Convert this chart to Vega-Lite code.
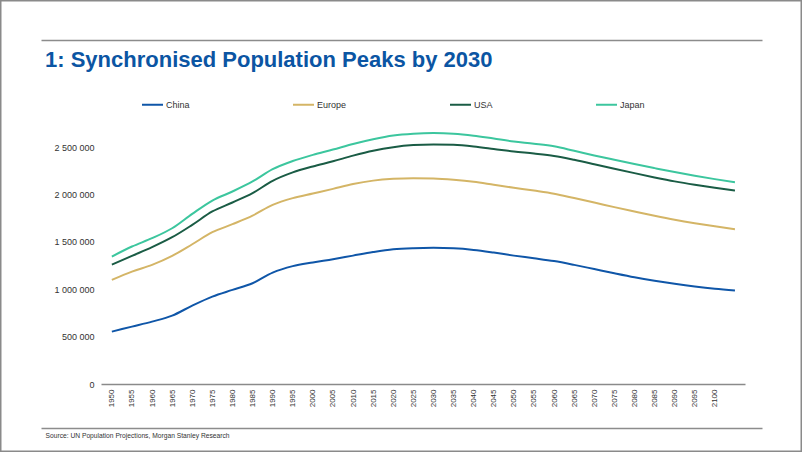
{
  "$schema": "https://vega.github.io/schema/vega-lite/v6.json",
  "width": 802,
  "height": 452,
  "autosize": {"type": "none"},
  "padding": 0,
  "background": "white",
  "config": {
    "locale": {"number": {"decimal": ".", "thousands": " ", "grouping": [3], "currency": ["", ""]}},
    "view": {"stroke": "#8a8a8a", "strokeWidth": 3},
    "font": "Liberation Sans"
  },
  "title": {
    "text": "1: Synchronised Population Peaks by 2030",
    "anchor": "start",
    "frame": "group",
    "orient": "top",
    "offset": 0,
    "dx": 45,
    "dy": 89,
    "baseline": "alphabetic",
    "font": "Liberation Sans",
    "fontSize": 22,
    "fontWeight": "bold",
    "color": "#0b55a3"
  },
  "data": {
    "values": [
      {"year": 1950, "series": "China", "value": 553000},
      {"year": 1955, "series": "China", "value": 606000},
      {"year": 1960, "series": "China", "value": 659000},
      {"year": 1965, "series": "China", "value": 722000},
      {"year": 1970, "series": "China", "value": 828000},
      {"year": 1975, "series": "China", "value": 923000},
      {"year": 1980, "series": "China", "value": 994000},
      {"year": 1985, "series": "China", "value": 1064000},
      {"year": 1990, "series": "China", "value": 1177000},
      {"year": 1995, "series": "China", "value": 1245000},
      {"year": 2000, "series": "China", "value": 1284000},
      {"year": 2005, "series": "China", "value": 1318000},
      {"year": 2010, "series": "China", "value": 1356000},
      {"year": 2015, "series": "China", "value": 1393000},
      {"year": 2020, "series": "China", "value": 1422000},
      {"year": 2025, "series": "China", "value": 1434000},
      {"year": 2030, "series": "China", "value": 1438000},
      {"year": 2035, "series": "China", "value": 1433000},
      {"year": 2040, "series": "China", "value": 1416000},
      {"year": 2045, "series": "China", "value": 1388000},
      {"year": 2050, "series": "China", "value": 1356000},
      {"year": 2055, "series": "China", "value": 1328000},
      {"year": 2060, "series": "China", "value": 1298000},
      {"year": 2065, "series": "China", "value": 1258000},
      {"year": 2070, "series": "China", "value": 1214000},
      {"year": 2075, "series": "China", "value": 1170000},
      {"year": 2080, "series": "China", "value": 1128000},
      {"year": 2085, "series": "China", "value": 1091000},
      {"year": 2090, "series": "China", "value": 1058000},
      {"year": 2095, "series": "China", "value": 1029000},
      {"year": 2100, "series": "China", "value": 1005000},
      {"year": 2105, "series": "China", "value": 987000},
      {"year": 1950, "series": "Europe", "value": 1099000},
      {"year": 1955, "series": "Europe", "value": 1187000},
      {"year": 1960, "series": "Europe", "value": 1258000},
      {"year": 1965, "series": "Europe", "value": 1353000},
      {"year": 1970, "series": "Europe", "value": 1476000},
      {"year": 1975, "series": "Europe", "value": 1603000},
      {"year": 1980, "series": "Europe", "value": 1688000},
      {"year": 1985, "series": "Europe", "value": 1779000},
      {"year": 1990, "series": "Europe", "value": 1892000},
      {"year": 1995, "series": "Europe", "value": 1963000},
      {"year": 2000, "series": "Europe", "value": 2012000},
      {"year": 2005, "series": "Europe", "value": 2061000},
      {"year": 2010, "series": "Europe", "value": 2112000},
      {"year": 2015, "series": "Europe", "value": 2148000},
      {"year": 2020, "series": "Europe", "value": 2167000},
      {"year": 2025, "series": "Europe", "value": 2174000},
      {"year": 2030, "series": "Europe", "value": 2170000},
      {"year": 2035, "series": "Europe", "value": 2156000},
      {"year": 2040, "series": "Europe", "value": 2135000},
      {"year": 2045, "series": "Europe", "value": 2104000},
      {"year": 2050, "series": "Europe", "value": 2073000},
      {"year": 2055, "series": "Europe", "value": 2043000},
      {"year": 2060, "series": "Europe", "value": 2010000},
      {"year": 2065, "series": "Europe", "value": 1964000},
      {"year": 2070, "series": "Europe", "value": 1917000},
      {"year": 2075, "series": "Europe", "value": 1868000},
      {"year": 2080, "series": "Europe", "value": 1822000},
      {"year": 2085, "series": "Europe", "value": 1777000},
      {"year": 2090, "series": "Europe", "value": 1735000},
      {"year": 2095, "series": "Europe", "value": 1698000},
      {"year": 2100, "series": "Europe", "value": 1665000},
      {"year": 2105, "series": "Europe", "value": 1635000},
      {"year": 1950, "series": "USA", "value": 1261000},
      {"year": 1955, "series": "USA", "value": 1353000},
      {"year": 1960, "series": "USA", "value": 1445000},
      {"year": 1965, "series": "USA", "value": 1550000},
      {"year": 1970, "series": "USA", "value": 1681000},
      {"year": 1975, "series": "USA", "value": 1822000},
      {"year": 1980, "series": "USA", "value": 1917000},
      {"year": 1985, "series": "USA", "value": 2016000},
      {"year": 1990, "series": "USA", "value": 2146000},
      {"year": 1995, "series": "USA", "value": 2235000},
      {"year": 2000, "series": "USA", "value": 2298000},
      {"year": 2005, "series": "USA", "value": 2352000},
      {"year": 2010, "series": "USA", "value": 2412000},
      {"year": 2015, "series": "USA", "value": 2464000},
      {"year": 2020, "series": "USA", "value": 2501000},
      {"year": 2025, "series": "USA", "value": 2523000},
      {"year": 2030, "series": "USA", "value": 2530000},
      {"year": 2035, "series": "USA", "value": 2526000},
      {"year": 2040, "series": "USA", "value": 2509000},
      {"year": 2045, "series": "USA", "value": 2483000},
      {"year": 2050, "series": "USA", "value": 2456000},
      {"year": 2055, "series": "USA", "value": 2434000},
      {"year": 2060, "series": "USA", "value": 2408000},
      {"year": 2065, "series": "USA", "value": 2368000},
      {"year": 2070, "series": "USA", "value": 2322000},
      {"year": 2075, "series": "USA", "value": 2274000},
      {"year": 2080, "series": "USA", "value": 2227000},
      {"year": 2085, "series": "USA", "value": 2182000},
      {"year": 2090, "series": "USA", "value": 2140000},
      {"year": 2095, "series": "USA", "value": 2104000},
      {"year": 2100, "series": "USA", "value": 2072000},
      {"year": 2105, "series": "USA", "value": 2043000},
      {"year": 1950, "series": "Japan", "value": 1346000},
      {"year": 1955, "series": "Japan", "value": 1452000},
      {"year": 1960, "series": "Japan", "value": 1540000},
      {"year": 1965, "series": "Japan", "value": 1645000},
      {"year": 1970, "series": "Japan", "value": 1797000},
      {"year": 1975, "series": "Japan", "value": 1938000},
      {"year": 1980, "series": "Japan", "value": 2033000},
      {"year": 1985, "series": "Japan", "value": 2139000},
      {"year": 1990, "series": "Japan", "value": 2269000},
      {"year": 1995, "series": "Japan", "value": 2355000},
      {"year": 2000, "series": "Japan", "value": 2420000},
      {"year": 2005, "series": "Japan", "value": 2476000},
      {"year": 2010, "series": "Japan", "value": 2535000},
      {"year": 2015, "series": "Japan", "value": 2585000},
      {"year": 2020, "series": "Japan", "value": 2624000},
      {"year": 2025, "series": "Japan", "value": 2643000},
      {"year": 2030, "series": "Japan", "value": 2650000},
      {"year": 2035, "series": "Japan", "value": 2643000},
      {"year": 2040, "series": "Japan", "value": 2622000},
      {"year": 2045, "series": "Japan", "value": 2592000},
      {"year": 2050, "series": "Japan", "value": 2562000},
      {"year": 2055, "series": "Japan", "value": 2538000},
      {"year": 2060, "series": "Japan", "value": 2510000},
      {"year": 2065, "series": "Japan", "value": 2463000},
      {"year": 2070, "series": "Japan", "value": 2414000},
      {"year": 2075, "series": "Japan", "value": 2368000},
      {"year": 2080, "series": "Japan", "value": 2323000},
      {"year": 2085, "series": "Japan", "value": 2280000},
      {"year": 2090, "series": "Japan", "value": 2238000},
      {"year": 2095, "series": "Japan", "value": 2199000},
      {"year": 2100, "series": "Japan", "value": 2164000},
      {"year": 2105, "series": "Japan", "value": 2132000}
    ]
  },
  "layer": [
    {
      "mark": {"type": "line", "interpolate": "monotone", "strokeWidth": 2},
      "encoding": {
        "x": {
          "field": "year",
          "type": "quantitative",
          "scale": {"domain": [1947.3, 2107.5], "range": [101, 745], "nice": false, "zero": false},
          "axis": {
            "orient": "bottom",
            "offset": -68,
            "values": [1950, 1955, 1960, 1965, 1970, 1975, 1980, 1985, 1990, 1995, 2000, 2005, 2010, 2015, 2020, 2025, 2030, 2035, 2040, 2045, 2050, 2055, 2060, 2065, 2070, 2075, 2080, 2085, 2090, 2095, 2100],
            "format": "d",
            "labelAngle": 270,
            "labelAlign": "right",
            "labelBaseline": "middle",
            "labelFontSize": 8,
            "labelFont": "Liberation Sans",
            "labelPadding": 5,
            "labelColor": "#333333",
            "labelOverlap": false,
            "labelFlush": false,
            "labelBound": false,
            "ticks": false,
            "tickSize": 0,
            "grid": false,
            "domainColor": "#8a8a8a",
            "domainWidth": 1.5,
            "title": null
          }
        },
        "y": {
          "field": "value",
          "type": "quantitative",
          "scale": {"domain": [0, 2500000], "range": [384, 147.3], "nice": false, "zero": true},
          "axis": {
            "orient": "left",
            "offset": -95,
            "values": [0, 500000, 1000000, 1500000, 2000000, 2500000],
            "format": ",d",
            "labelFontSize": 9,
            "labelFont": "Liberation Sans",
            "labelPadding": 1,
            "labelColor": "#333333",
            "labelBaseline": "middle",
            "ticks": false,
            "tickSize": 0,
            "domain": false,
            "grid": false,
            "title": null
          }
        },
        "color": {
          "field": "series",
          "type": "nominal",
          "scale": {"domain": ["China", "Europe", "USA", "Japan"], "range": ["#0f56a8", "#d4b566", "#1a5c45", "#3cc69e"]},
          "legend": {
            "title": null,
            "orient": "none",
            "direction": "horizontal",
            "legendX": 141,
            "legendY": 93,
            "padding": 0,
            "columnPadding": 99,
            "symbolType": "stroke",
            "symbolSize": 441,
            "symbolStrokeWidth": 2,
            "labelOffset": 2,
            "labelFontSize": 9,
            "labelFont": "Liberation Sans",
            "labelColor": "#333333"
          }
        }
      }
    },
    {
      "mark": {"type": "rule", "opacity": 0},
      "encoding": {
        "x": {
          "field": "year",
          "type": "quantitative",
          "scale": {"range": [41, 762], "nice": false, "zero": false},
          "axis": {"orient": "top", "offset": -40, "labels": false, "ticks": false, "grid": false, "title": null, "domainColor": "#8c8c8c", "domainWidth": 1.5}
        }
      }
    },
    {
      "mark": {"type": "rule", "opacity": 0},
      "encoding": {
        "x": {
          "field": "year",
          "type": "quantitative",
          "scale": {"range": [41, 762], "nice": false, "zero": false},
          "axis": {
            "orient": "bottom",
            "offset": -24,
            "labels": false,
            "ticks": false,
            "grid": false,
            "domainColor": "#8c8c8c",
            "domainWidth": 1.5,
            "title": "Source: UN Population Projections, Morgan Stanley Research",
            "titleX": 45,
            "titleY": 9.5,
            "titleAlign": "left",
            "titleBaseline": "alphabetic",
            "titleFont": "Liberation Sans",
            "titleFontSize": 6.7,
            "titleFontWeight": "normal",
            "titleColor": "#333333"
          }
        }
      }
    }
  ],
  "resolve": {"scale": {"x": "independent"}, "axis": {"x": "independent"}}
}
